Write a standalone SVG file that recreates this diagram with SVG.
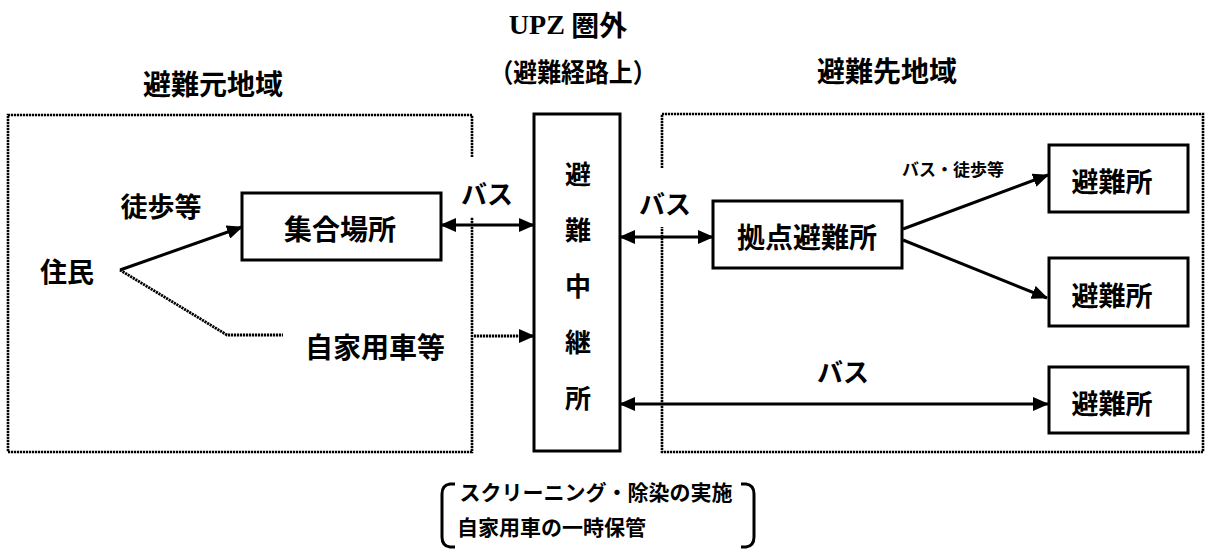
<svg xmlns="http://www.w3.org/2000/svg" width="1207" height="549" viewBox="0 0 1207 549">
<style>
.t{font-family:"Noto Sans CJK JP","Noto Sans CJK SC",sans-serif;font-weight:700;fill:#000;text-anchor:middle;dominant-baseline:central}
.box{fill:#fff;stroke:#000;stroke-width:3}
.region{fill:none;stroke:#000;stroke-width:2.6;stroke-dasharray:2.2 0.8}
.ln{fill:none;stroke:#000;stroke-width:3}
.dl{fill:none;stroke:#000;stroke-width:2.8;stroke-dasharray:2.2 0.8}
</style>
<defs>
<marker id="ah" markerUnits="userSpaceOnUse" markerWidth="16" markerHeight="14" viewBox="0 0 16 14" refX="15" refY="7" orient="auto-start-reverse">
<path d="M0,0 L16,7 L0,14 z" fill="#000"/>
</marker>
</defs>
<rect width="1207" height="549" fill="#fff"/>

<g id="titles">
<text x="568" y="24" class="t" font-size="28"><tspan font-family="Liberation Serif,serif" font-weight="700">UPZ</tspan> 圏外</text>
<text x="573" y="70" class="t" font-size="26" textLength="167" lengthAdjust="spacingAndGlyphs">（避難経路上）</text>
<text x="213" y="83" class="t" font-size="28">避難元地域</text>
<text x="887" y="70" class="t" font-size="28">避難先地域</text>
</g>

<g id="region-source">
<path class="region" d="M472,157 V115 H8 V452 H472 V217"/>
</g>
<g id="region-dest">
<path class="region" d="M662,168 V114 H1203 V452 H662 V227"/>
</g>

<g id="connectors">
<line class="ln" x1="120" y1="270" x2="242" y2="227" marker-end="url(#ah)"/>
<polyline class="dl" points="120,270 227,335 283,335"/>
<line class="dl" x1="474" y1="336" x2="534" y2="336" marker-end="url(#ah)"/>
<line class="ln" x1="441" y1="225" x2="534" y2="225" marker-start="url(#ah)" marker-end="url(#ah)"/>
<line class="ln" x1="620" y1="237" x2="713" y2="237" marker-start="url(#ah)" marker-end="url(#ah)"/>
<line class="ln" x1="903" y1="229" x2="1048" y2="175" marker-end="url(#ah)"/>
<line class="ln" x1="903" y1="240" x2="1047" y2="298" marker-end="url(#ah)"/>
<line class="ln" x1="620" y1="404" x2="1048" y2="404" marker-start="url(#ah)" marker-end="url(#ah)"/>
</g>

<g id="labels">
<text x="67" y="270" class="t" font-size="27">住民</text>
<text x="161" y="205" class="t" font-size="27">徒歩等</text>
<text x="375" y="346" class="t" font-size="28">自家用車等</text>
<text x="487" y="192" class="t" font-size="26">バス</text>
<text x="665" y="202" class="t" font-size="26">バス</text>
<text x="953" y="168" class="t" font-size="17">バス・徒歩等</text>
<text x="843" y="370" class="t" font-size="26">バス</text>
</g>

<g id="node-shugo">
<rect class="box" x="242" y="193" width="199" height="67"/>
<text x="340" y="228" class="t" font-size="28">集合場所</text>
</g>

<g id="node-chukei">
<rect class="box" x="534" y="114" width="86" height="337"/>
<text x="578" y="172" class="t" font-size="26">避</text>
<text x="578" y="228" class="t" font-size="26">難</text>
<text x="578" y="284" class="t" font-size="26">中</text>
<text x="578" y="340" class="t" font-size="26">継</text>
<text x="578" y="396" class="t" font-size="26">所</text>
</g>

<g id="node-kyoten">
<rect class="box" x="713" y="201" width="189" height="67"/>
<text x="807" y="236" class="t" font-size="28">拠点避難所</text>
</g>

<g id="node-hinan1">
<rect class="box" x="1049" y="145" width="139" height="67"/>
<text x="1112" y="180" class="t" font-size="27">避難所</text>
</g>
<g id="node-hinan2">
<rect class="box" x="1049" y="258" width="139" height="68"/>
<text x="1112" y="294" class="t" font-size="27">避難所</text>
</g>
<g id="node-hinan3">
<rect class="box" x="1049" y="367" width="139" height="66"/>
<text x="1112" y="402" class="t" font-size="27">避難所</text>
</g>

<g id="note">
<path class="ln" d="M455,484 H450 Q442,485 442,494 V537 Q442,546 450,547 H455"/>
<path class="ln" d="M741,484 H746 Q754,485 754,494 V537 Q754,546 746,547 H741"/>
<text x="596" y="491" class="t" font-size="21">スクリーニング・除染の実施</text>
<text x="457" y="526" class="t" font-size="21" style="text-anchor:start">自家用車の一時保管</text>
</g>
</svg>
